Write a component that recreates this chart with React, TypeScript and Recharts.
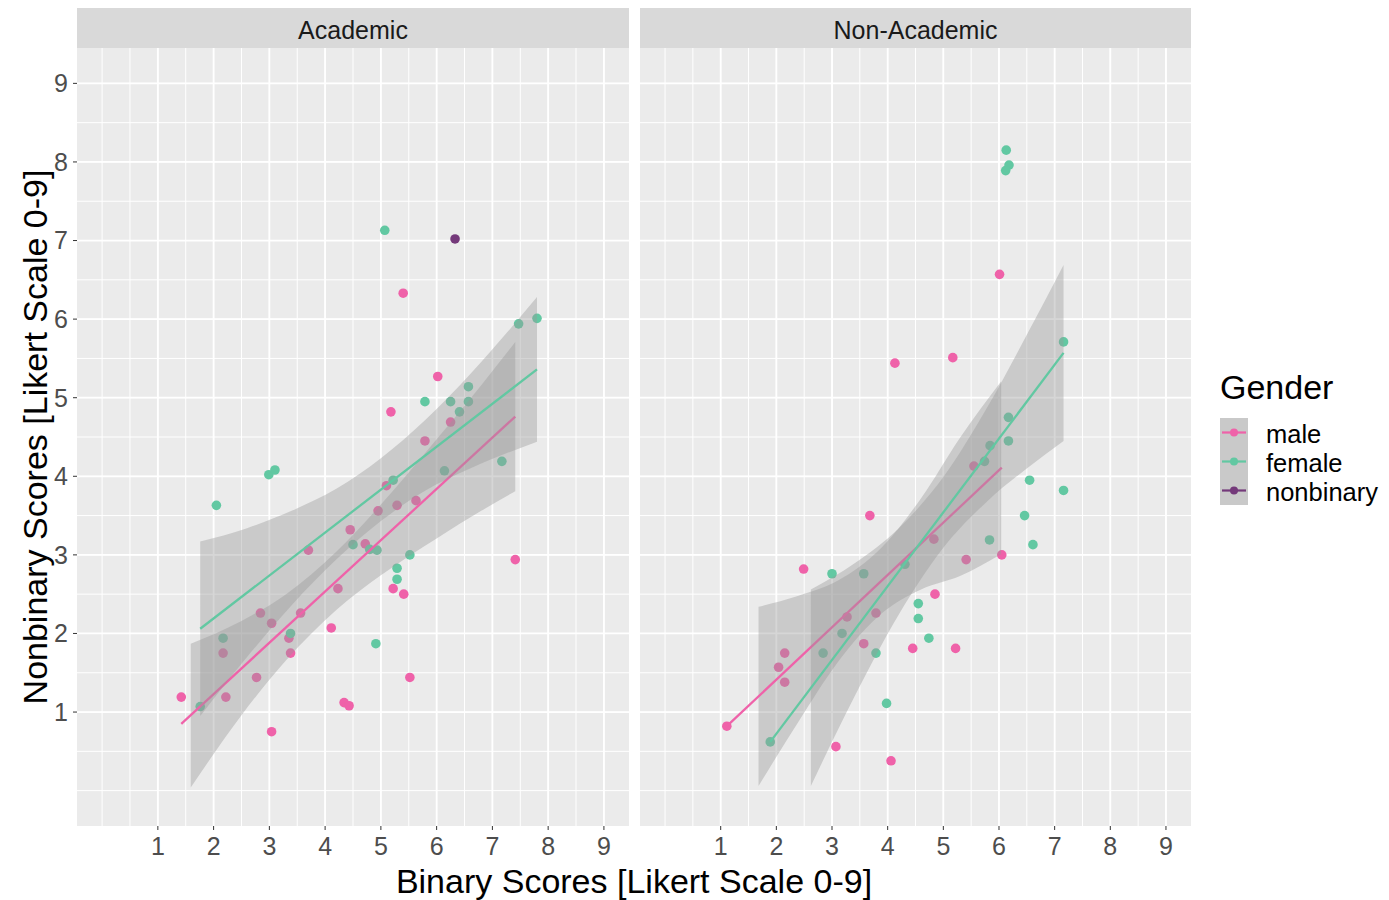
import React from 'react';
import { ComposedChart, Scatter, Area, Line, XAxis, YAxis, CartesianGrid } from 'recharts';

const FONT = '"Liberation Sans", Arial, Helvetica, sans-serif';
const MALE = '#ef62a9';
const FEMALE = '#62c8a2';
const NONBIN = '#74397a';

const axisTicks = [1, 2, 3, 4, 5, 6, 7, 8, 9];
const minorGrid = [0, 0.5, 1, 1.5, 2, 2.5, 3, 3.5, 4, 4.5, 5, 5.5, 6, 6.5, 7, 7.5, 8, 8.5, 9];
const genders = ['male', 'female', 'nonbinary'];

// Academic panel
const acadMale = [
  [1.42, 1.19], [2.22, 1.19], [2.17, 1.75], [2.77, 1.44], [3.04, 0.75], [2.84, 2.26], [3.04, 2.13],
  [3.35, 1.94], [3.38, 1.75], [3.56, 2.26], [3.7, 3.06], [4.11, 2.07], [4.23, 2.57], [4.34, 1.12],
  [4.43, 1.08], [4.45, 3.32], [4.72, 3.14], [4.95, 3.56], [5.1, 3.88], [5.29, 3.63], [5.63, 3.69],
  [5.22, 2.57], [5.41, 2.5], [5.52, 1.44], [7.41, 2.94], [5.4, 6.33], [6.02, 5.27], [5.18, 4.82],
  [6.25, 4.69], [5.79, 4.45],
];
const acadFemale = [
  [1.76, 1.07], [2.17, 1.94], [2.05, 3.63], [2.99, 4.02], [3.1, 4.08], [3.38, 2.0], [4.5, 3.13],
  [4.8, 3.07], [4.93, 3.06], [5.22, 3.95], [5.52, 3.0], [5.29, 2.83], [5.29, 2.69], [4.91, 1.87],
  [5.07, 7.13], [7.47, 5.94], [7.8, 6.01], [6.57, 5.14], [5.79, 4.95], [6.25, 4.95], [6.57, 4.95],
  [6.41, 4.82], [6.14, 4.07], [7.17, 4.19],
];
const acadNonbin = [[6.33, 7.02]];

const acadMaleFit = [[1.42, 0.85], [7.41, 4.76]];
const acadFemaleFit = [[1.76, 2.06], [7.8, 5.36]];

const acadMaleBandX = [1.59, 2.5, 3.3, 4.2, 5.0, 6.0, 6.8, 7.41];
const acadMaleLo = [0.04, 0.96, 1.66, 2.3, 2.74, 3.21, 3.56, 3.81];
const acadMaleHi = [1.87, 2.16, 2.5, 3.04, 3.64, 4.47, 5.16, 5.71];

const acadFemaleBandX = [1.76, 2.6, 3.4, 4.2, 5.0, 5.8, 6.6, 7.8];
const acadFemaleLo = [0.95, 1.7, 2.36, 2.94, 3.43, 3.82, 4.1, 4.44];
const acadFemaleHi = [3.17, 3.34, 3.56, 3.84, 4.23, 4.72, 5.3, 6.28];

// Non-Academic panel
const nonAcadMale = [
  [1.11, 0.82], [3.07, 0.56], [4.06, 0.38], [2.15, 1.75], [2.04, 1.57], [2.15, 1.38], [2.49, 2.82],
  [3.68, 3.5], [3.27, 2.21], [3.57, 1.87], [3.79, 2.26], [4.45, 1.81], [5.22, 1.81], [4.85, 2.5],
  [4.83, 3.2], [5.41, 2.94], [6.05, 3.0], [6.01, 6.57], [5.17, 5.51], [5.55, 4.13], [4.13, 5.44],
];
const nonAcadFemale = [
  [1.89, 0.62], [3.98, 1.11], [3.0, 2.76], [3.57, 2.76], [2.84, 1.75], [3.18, 2.0], [3.79, 1.75],
  [4.55, 2.38], [4.55, 2.19], [4.31, 2.88], [4.74, 1.94], [5.83, 3.19], [6.46, 3.5], [6.61, 3.13],
  [6.55, 3.95], [7.16, 3.82], [6.13, 8.15], [6.18, 7.96], [6.12, 7.89], [7.16, 5.71], [6.17, 4.75],
  [6.17, 4.45], [5.84, 4.39], [5.74, 4.19],
];

const nonAcadMaleFit = [[1.11, 0.82], [6.05, 4.11]];
const nonAcadFemaleFit = [[1.89, 0.62], [7.16, 5.57]];

const nonAcadMaleBandX = [1.68, 2.4, 3.1, 3.9, 4.6, 5.3, 6.04];
const nonAcadMaleLo = [0.06, 0.88, 1.63, 2.26, 2.56, 2.73, 3.01];
const nonAcadMaleHi = [2.34, 2.48, 2.67, 3.1, 3.72, 4.49, 5.21];

const nonAcadFemaleBandX = [2.62, 3.4, 4.2, 5.0, 5.8, 6.5, 7.16];
const nonAcadFemaleLo = [0.06, 1.19, 2.24, 3.09, 3.69, 4.1, 4.45];
const nonAcadFemaleHi = [2.56, 2.89, 3.34, 3.99, 4.89, 5.8, 6.69];

const toPts = (a: number[][]) => a.map(([x, y]) => ({ x, y }));
const toBand = (xs: number[], lo: number[], hi: number[]) => xs.map((x, i) => ({ x, band: [lo[i], hi[i]] }));

const dot = (color: string) => (p: any) => <circle cx={p.cx} cy={p.cy} r={4.8} fill={color} />;

const tickStyle = { fill: '#4d4d4d', fontSize: 25, fontFamily: FONT };

function Panel({ title, left, width, showY, male, female, nonbin, maleBand, femaleBand, maleFit, femaleFit }: any) {
  const yw = showY ? 77 : 0;
  return (
    <div style={{ position: 'absolute', left, top: 8 }}>
      <div
        style={{
          position: 'absolute', left: yw, top: 0, width: width - yw, height: 40, background: '#d9d9d9',
          fontFamily: FONT, fontSize: 25, color: '#1a1a1a', textAlign: 'center', lineHeight: '44px',
        }}
      >
        {title}
      </div>
      <div style={{ position: 'absolute', left: 0, top: 40 }}>
        <ComposedChart width={width} height={818} margin={{ top: 0, right: 0, bottom: 0, left: 0 }}>
          <CartesianGrid fill="#ebebeb" stroke="#ffffff" strokeWidth={1} verticalValues={minorGrid} horizontalValues={minorGrid} />
          <CartesianGrid stroke="#ffffff" strokeWidth={1.8} verticalValues={axisTicks} horizontalValues={axisTicks} />
          <XAxis
            dataKey="x" type="number" domain={[-0.45, 9.45]} ticks={axisTicks} allowDataOverflow interval={0}
            height={40} tickSize={4} tickMargin={7} axisLine={false} tickLine={{ stroke: '#333333' }} tick={tickStyle}
          />
          <YAxis
            dataKey="y" type="number" domain={[-0.45, 9.45]} ticks={axisTicks} allowDataOverflow interval={0}
            width={77} hide={!showY} tickSize={4} tickMargin={5} axisLine={false} tickLine={{ stroke: '#333333' }} tick={tickStyle}
          />
          <Scatter data={male} shape={dot(MALE)} isAnimationActive={false} zIndex={50} />
          <Scatter data={female} shape={dot(FEMALE)} isAnimationActive={false} zIndex={51} />
          {nonbin && <Scatter data={nonbin} shape={dot(NONBIN)} isAnimationActive={false} zIndex={52} />}
          <Area data={maleBand} dataKey="band" type="monotone" stroke="none" fill="#999999" fillOpacity={0.4} isAnimationActive={false} zIndex={110} />
          <Line data={maleFit} dataKey="y" type="linear" stroke={MALE} strokeWidth={2.3} dot={false} isAnimationActive={false} zIndex={120} />
          <Area data={femaleBand} dataKey="band" type="monotone" stroke="none" fill="#999999" fillOpacity={0.4} isAnimationActive={false} zIndex={130} />
          <Line data={femaleFit} dataKey="y" type="linear" stroke={FEMALE} strokeWidth={2.3} dot={false} isAnimationActive={false} zIndex={140} />
        </ComposedChart>
      </div>
    </div>
  );
}

export default function App() {
  const keyColors = [MALE, FEMALE, NONBIN];
  return (
    <div style={{ position: 'absolute', left: 0, top: 0, width: 1389, height: 900, background: '#ffffff', overflow: 'hidden' }}>
      <Panel
        title="Academic" left={0} width={629} showY
        male={toPts(acadMale)} female={toPts(acadFemale)} nonbin={toPts(acadNonbin)}
        maleBand={toBand(acadMaleBandX, acadMaleLo, acadMaleHi)}
        femaleBand={toBand(acadFemaleBandX, acadFemaleLo, acadFemaleHi)}
        maleFit={toPts(acadMaleFit)} femaleFit={toPts(acadFemaleFit)}
      />
      <Panel
        title="Non-Academic" left={640} width={551} showY={false}
        male={toPts(nonAcadMale)} female={toPts(nonAcadFemale)} nonbin={null}
        maleBand={toBand(nonAcadMaleBandX, nonAcadMaleLo, nonAcadMaleHi)}
        femaleBand={toBand(nonAcadFemaleBandX, nonAcadFemaleLo, nonAcadFemaleHi)}
        maleFit={toPts(nonAcadMaleFit)} femaleFit={toPts(nonAcadFemaleFit)}
      />
      <svg width={1389} height={900} style={{ position: 'absolute', left: 0, top: 0, pointerEvents: 'none' }}>
        <text x={634} y={881} textAnchor="middle" dominantBaseline="central" fontFamily={FONT} fontSize={34} fill="#000000">
          Binary Scores [Likert Scale 0-9]
        </text>
        <text
          x={35} y={437} textAnchor="middle" dominantBaseline="central" fontFamily={FONT} fontSize={34} fill="#000000"
          transform="rotate(-90 35 437)"
        >
          Nonbinary Scores [Likert Scale 0-9]
        </text>
        <text x={1220} y={387} dominantBaseline="central" fontFamily={FONT} fontSize={34} fill="#000000">Gender</text>
        <rect x={1220} y={418} width={28} height={87} fill="#c9c9c9" />
        {genders.map((g, i) => (
          <g key={g}>
            <line x1={1222} x2={1246} y1={432.5 + i * 29} y2={432.5 + i * 29} stroke={keyColors[i]} strokeWidth={2.2} />
            <circle cx={1234} cy={432.5 + i * 29} r={4} fill={keyColors[i]} />
            <text x={1266} y={433.5 + i * 29} dominantBaseline="central" fontFamily={FONT} fontSize={25.5} fill="#000000">{g}</text>
          </g>
        ))}
      </svg>
    </div>
  );
}
